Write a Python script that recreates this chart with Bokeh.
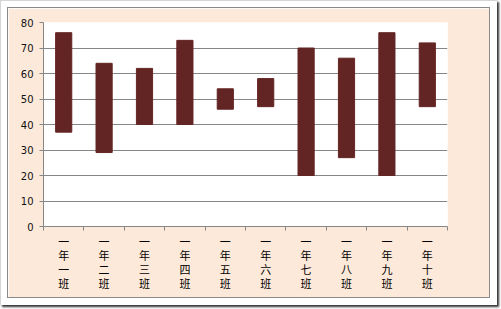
from bokeh.plotting import figure
from bokeh.models import Range1d, LinearAxis, FixedTicker
from bokeh.layouts import column
from bokeh.embed import file_html
from bokeh.resources import INLINE

categories = ["一年一班", "一年二班", "一年三班", "一年四班", "一年五班",
              "一年六班", "一年七班", "一年八班", "一年九班", "一年十班"]
low = [37, 29, 40, 40, 46, 47, 20, 27, 20, 47]
high = [76, 64, 62, 73, 54, 58, 70, 66, 76, 72]
y_ticks = [0, 10, 20, 30, 40, 50, 60, 70, 80]

n = len(categories)
centers = [i + 0.5 for i in range(n)]
bounds = list(range(n + 1))
labels = {c: "\n".join(name) for c, name in zip(centers, categories)}

GRAY = "#868686"

p = figure(x_range=Range1d(0, n), y_range=Range1d(0, 80),
           width=481, height=289, sizing_mode="fixed",
           min_border_left=35, min_border_right=42, min_border_top=14, min_border_bottom=71,
           output_backend="svg", toolbar_location=None, x_axis_location=None,
           margin=(7, 8, 8, 7))
p.outline_line_color = None
p.background_fill_color = "white"
p.border_fill_color = "#FDE9D9"
p.styles = {"outline": "1px solid #8a8a8a"}

p.vbar(x=centers, bottom=low, top=high, width=0.4, color="#632523")

p.xgrid.grid_line_color = None
p.ygrid.grid_line_color = GRAY
p.yaxis.ticker = FixedTicker(ticks=y_ticks)
p.yaxis.axis_line_color = GRAY
p.yaxis.major_tick_line_color = GRAY
p.yaxis.major_tick_out = 4
p.yaxis.major_tick_in = 0
p.yaxis.minor_tick_line_color = None
p.yaxis.major_label_standoff = 6
p.yaxis.major_label_text_font = "DejaVu Sans"
p.yaxis.major_label_text_font_size = "10px"
p.yaxis.major_label_text_color = "#111111"

ax = LinearAxis(ticker=FixedTicker(ticks=centers, minor_ticks=bounds),
                major_label_overrides=labels,
                axis_line_color=GRAY,
                major_tick_line_color=None, major_tick_out=0, major_tick_in=0,
                minor_tick_line_color=GRAY, minor_tick_out=4, minor_tick_in=0,
                major_label_text_font="Noto Sans CJK SC",
                major_label_text_font_size="11px",
                major_label_text_line_height=0.88,
                major_label_text_color="#000000",
                major_label_standoff=2)
p.add_layout(ax, "below")

root = column(p,
              styles={"background-color": "white",
                      "border-top": "1px solid #d4d4d4",
                      "border-left": "1px solid #d4d4d4",
                      "box-shadow": "2px 2px 2px #333"})

open("out.html", "w").write(file_html(root, INLINE))
